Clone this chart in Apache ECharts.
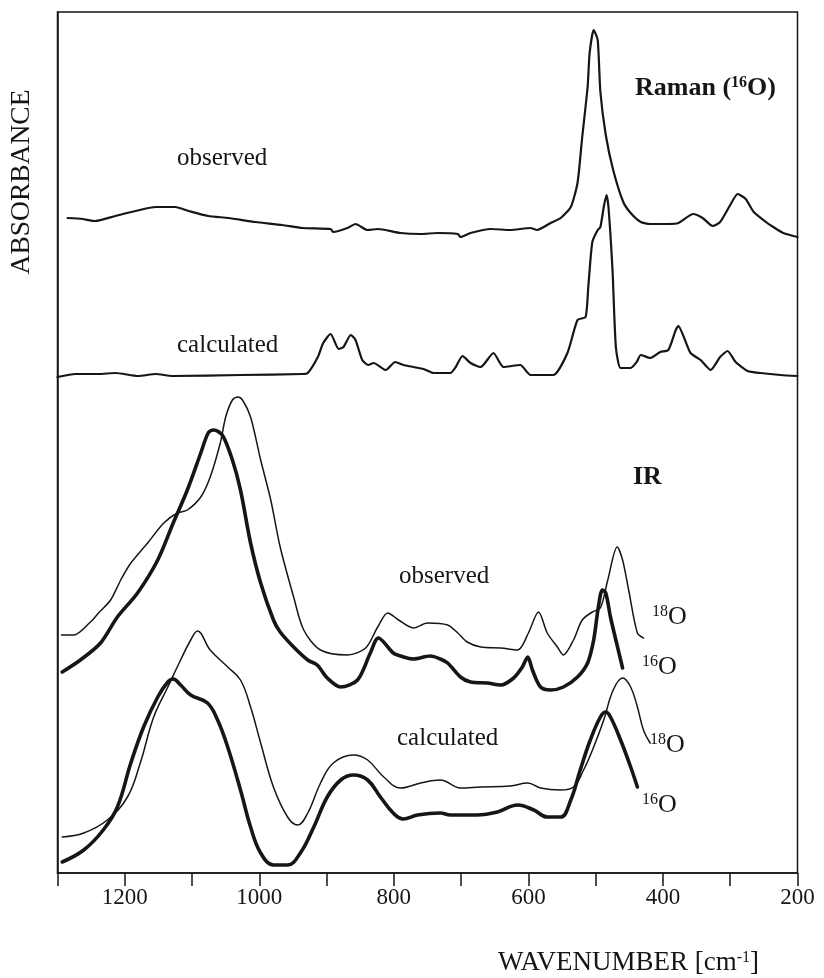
<!DOCTYPE html>
<html>
<head>
<meta charset="utf-8">
<script src="https://cdn.jsdelivr.net/npm/echarts@6/dist/echarts.min.js"></script>
<style>
  html, body { margin: 0; padding: 0; background: #ffffff; }
  #chart { width: 824px; height: 978px; }
</style>
</head>
<body>
<div id="chart"></div>
<script>
// Spectra as [wavenumber (cm-1), absorbance (arbitrary units, traces offset vertically)]

// Raman, 16O
const ramanObserved = [
  [1285,655],[1263,654],[1244,652],[1214,657],[1184,662],[1154,666],[1125,666],[1105,662],
  [1076,657],[1046,655],[1006,651],[966,648],[936,645],[894,644],[890,641],[869,645],
  [857,649],[839,643],[824,644],[790,640],[760,639],[735,640],[705,639],[701,636],
  [686,640],[656,644],[627,643],[597,645],[587,643],[567,650],[552,655],[537,666],
  [527,690],[520,736],[512,786],[509,820],[503,843],[497,833],[493,781],[485,738],
  [474,703],[459,671],[448,660],[433,651],[419,649],[393,649],[377,650],[355,659],
  [341,655],[326,647],[315,651],[300,668],[289,679],[277,674],[265,661],[245,650],
  [236,646],[221,640],[200,636]
];
const ramanCalculated = [
  [1300,496],[1273,499],[1239,499],[1214,500],[1180,497],[1154,499],[1129,497],[1028,498],
  [936,499],[928,500],[913,516],[905,530],[894,539],[882,524],[875,526],[864,538],
  [857,533],[847,513],[838,508],[830,510],[812,503],[798,511],[786,508],[771,506],
  [756,504],[741,500],[716,500],[708,506],[698,517],[686,510],[671,506],[652,520],
  [637,506],[612,508],[597,498],[563,498],[542,520],[527,553],[515,556],[511,586],
  [505,631],[497,643],[493,646],[488,666],[484,678],[481,666],[475,603],[470,526],
  [463,505],[448,505],[439,511],[433,518],[419,515],[404,521],[392,523],[381,543],
  [377,547],[369,536],[359,520],[344,513],[329,503],[315,516],[304,522],[292,511],
  [274,502],[255,500],[225,498],[200,497]
];

// IR, observed
const irObserved18O = [
  [1294,238],[1276,238],[1251,251],[1239,260],[1221,273],[1206,293],[1191,310],[1166,330],
  [1142,350],[1122,360],[1107,363],[1087,376],[1073,396],[1058,430],[1050,456],[1040,473],
  [1032,476],[1025,473],[1013,456],[998,413],[983,373],[969,326],[949,276],[934,243],
  [909,223],[869,218],[842,225],[824,246],[809,260],[793,253],[771,245],[750,250],
  [720,248],[705,240],[691,231],[671,226],[641,225],[616,223],[600,240],[585,261],
  [572,240],[557,226],[548,218],[533,233],[520,253],[505,261],[493,265],[482,293],
  [468,326],[460,313],[451,283],[438,240],[429,235]
];
const irObserved16O = [
  [1293,201],[1266,213],[1236,230],[1211,256],[1181,280],[1151,313],[1128,350],[1107,383],
  [1087,420],[1076,440],[1068,443],[1055,438],[1040,413],[1028,383],[1013,330],[998,290],
  [979,253],[969,241],[949,226],[928,213],[914,208],[899,195],[879,186],[854,193],
  [835,220],[823,235],[801,220],[790,217],[771,214],[746,217],[731,214],[720,210],
  [701,196],[686,191],[661,190],[641,188],[622,195],[609,206],[601,216],[594,203],
  [582,186],[567,183],[548,186],[527,196],[512,210],[503,233],[496,266],[490,283],
  [485,280],[478,256],[470,233],[460,205]
];

// IR, calculated
const irCalculated18O = [
  [1293,36],[1261,40],[1226,53],[1196,76],[1177,110],[1157,156],[1136,186],[1117,213],
  [1102,233],[1092,242],[1073,223],[1047,206],[1028,193],[1013,166],[998,130],[979,86],
  [958,56],[943,48],[928,60],[909,90],[890,110],[860,118],[839,113],[815,96],
  [790,85],[760,90],[731,93],[701,85],[671,86],[627,87],[601,90],[582,85],
  [552,83],[533,86],[518,103],[503,126],[488,153],[474,183],[460,195],[448,186],
  [438,166],[429,143],[419,130]
];
const irCalculated16O = [
  [1293,11],[1261,23],[1232,43],[1211,66],[1191,110],[1172,146],[1151,176],[1136,191],
  [1128,194],[1117,188],[1102,178],[1077,170],[1062,153],[1047,126],[1028,83],[1013,46],
  [998,20],[979,8],[958,8],[939,20],[919,46],[899,76],[879,93],[860,98],
  [839,93],[820,76],[801,60],[786,54],[765,58],[731,60],[716,58],[676,58],
  [646,61],[616,68],[592,63],[572,56],[552,56],[537,73],[523,103],[508,133],
  [493,156],[485,161],[478,156],[463,133],[448,106],[438,86]
];

// Wavenumber axis
const axisMin = 200;
const axisMax = 1300;
const tickStep = 100;
const labeledTicks = [1200, 1000, 800, 600, 400, 200];

const INK = '#161616';
const SERIF = '"Liberation Serif", "Times New Roman", serif';

function trace(name, data, width, smooth) {
  return {
    name: name,
    type: 'line',
    data: data,
    showSymbol: false,
    smooth: smooth,
    silent: true,
    lineStyle: { color: INK, width: width, join: 'round', cap: 'round' },
    z: 3
  };
}

function label(x, y, text, rich) {
  return {
    type: 'text',
    x: x,
    y: y,
    silent: true,
    style: {
      text: text,
      rich: rich,
      fill: INK,
      align: 'left',
      verticalAlign: 'middle'
    }
  };
}

const plain = { t: { fontFamily: SERIF, fontSize: 25, fill: INK } };
const bold = {
  t: { fontFamily: SERIF, fontSize: 26, fontWeight: 'bold', fill: INK },
  s: { fontFamily: SERIF, fontSize: 16, fontWeight: 'bold', fill: INK, verticalAlign: 'top' }
};
const isotope = {
  t: { fontFamily: SERIF, fontSize: 26, fill: INK },
  s: { fontFamily: SERIF, fontSize: 16, fill: INK, verticalAlign: 'top' }
};
const axisTitle = {
  t: { fontFamily: SERIF, fontSize: 27, fill: INK },
  s: { fontFamily: SERIF, fontSize: 16, fill: INK, verticalAlign: 'top' }
};
const sideTitle = { t: { fontFamily: SERIF, fontSize: 27.5, fill: INK } };

const chart = echarts.init(document.getElementById('chart'), null, { renderer: 'canvas' });

chart.setOption({
  animation: false,
  backgroundColor: '#ffffff',
  grid: {
    left: 57.5, right: 26.5, top: 12, bottom: 105,
    show: true, borderColor: INK, borderWidth: 1.5, backgroundColor: 'transparent'
  },
  xAxis: {
    type: 'value',
    min: axisMin,
    max: axisMax,
    interval: tickStep,
    inverse: true,
    axisLine: { show: true, lineStyle: { color: INK, width: 1.5 } },
    axisTick: { show: true, inside: false, length: 13, lineStyle: { color: INK, width: 1.5 } },
    axisLabel: {
      show: true,
      margin: 13,
      showMinLabel: true,
      showMaxLabel: true,
      color: INK,
      fontFamily: SERIF,
      fontSize: 23,
      formatter: function (v) { return labeledTicks.indexOf(v) >= 0 ? String(v) : ''; }
    },
    splitLine: { show: false }
  },
  yAxis: {
    type: 'value',
    min: 0,
    max: 861,
    axisLine: { show: true, lineStyle: { color: INK, width: 1.5 } },
    axisTick: { show: false },
    axisLabel: { show: false },
    splitLine: { show: false }
  },
  series: [
    trace('Raman observed', ramanObserved, 2.2, 0.2),
    trace('Raman calculated', ramanCalculated, 2.2, 0.2),
    trace('IR observed 18O', irObserved18O, 1.5, 0.3),
    trace('IR observed 16O', irObserved16O, 3.6, 0.3),
    trace('IR calculated 18O', irCalculated18O, 1.5, 0.4),
    trace('IR calculated 16O', irCalculated16O, 3.6, 0.4)
  ],
  graphic: [
    {
      type: 'text', x: 22, y: 182, rotation: Math.PI / 2, silent: true,
      style: { text: '{t|ABSORBANCE}', rich: sideTitle, fill: INK, align: 'center', verticalAlign: 'middle' }
    },
    label(498, 963, '{t|WAVENUMBER [cm}{s|-1}{t|]}', axisTitle),

    label(635, 88, '{t|Raman (}{s|16}{t|O)}', bold),
    label(177, 158, '{t|observed}', plain),
    label(177, 345, '{t|calculated}', plain),

    label(633, 477, '{t|IR}', bold),
    label(399, 576, '{t|observed}', plain),
    label(397, 738, '{t|calculated}', plain),
    label(652, 617, '{s|18}{t|O}', isotope),
    label(642, 667, '{s|16}{t|O}', isotope),
    label(650, 745, '{s|18}{t|O}', isotope),
    label(642, 805, '{s|16}{t|O}', isotope)
  ]
});
</script>
</body>
</html>
